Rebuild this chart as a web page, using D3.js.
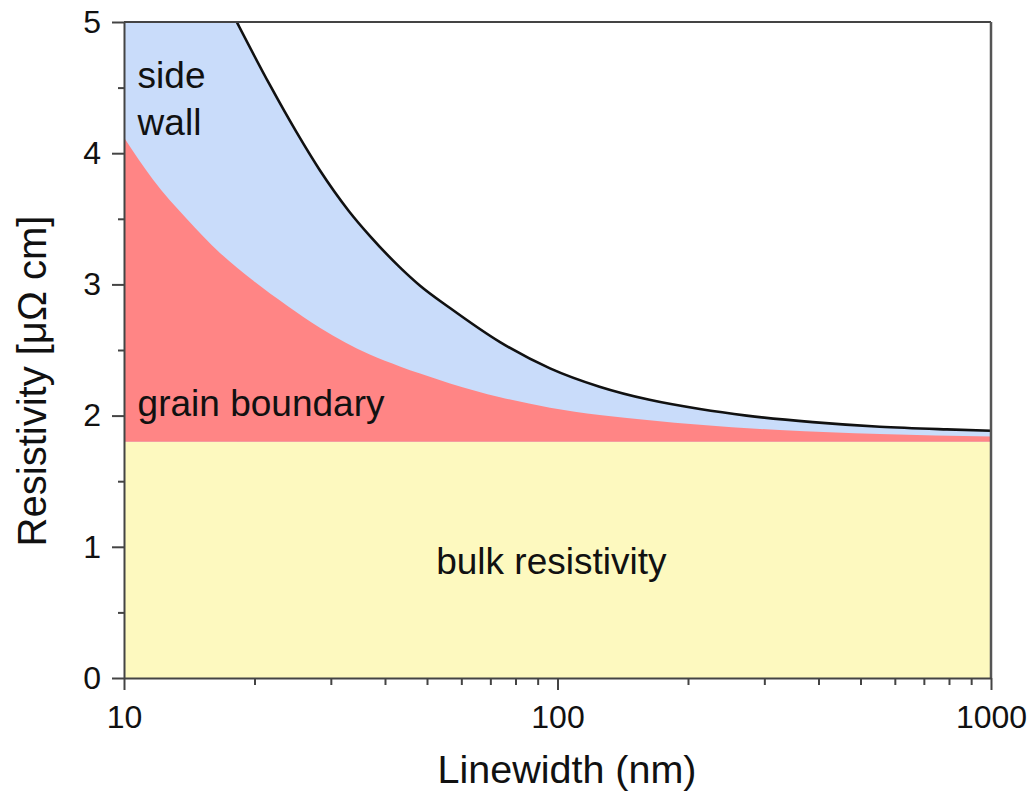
<!DOCTYPE html>
<html>
<head>
<meta charset="utf-8">
<script src="https://cdn.jsdelivr.net/npm/d3@7"></script>
<style>
  html, body { margin: 0; padding: 0; background: #fff; }
  svg { display: block; font-family: "Liberation Sans", Arial, Helvetica, sans-serif; }
</style>
</head>
<body>
<svg id="chart" width="1033" height="794"></svg>
<script>
// ---- data ----
// total resistivity (black line); it leaves the plot top (5) at about 18.2 nm
const totalWidths = [18.2, 21.7, 25, 28.3, 33, 36.9, 43.3, 48.2, 56.5, 73.7, 96.1, 125, 163, 213, 273, 388, 554, 791, 1000];
const totalResistivity = [5.0, 4.52, 4.16, 3.87, 3.56, 3.37, 3.13, 2.99, 2.82, 2.56, 2.36, 2.22, 2.12, 2.05, 2.00, 1.95, 1.915, 1.895, 1.885];
// top of the grain-boundary band
const grainWidths = [10, 11.66, 13.95, 16.65, 19.85, 23.75, 28.3, 36.9, 43.3, 48.2, 56.5, 73.7, 96.1, 125, 163, 213, 325, 554, 1000];
const grainResistivity = [4.12, 3.80, 3.50, 3.24, 3.03, 2.84, 2.67, 2.465, 2.375, 2.32, 2.245, 2.14, 2.06, 2.005, 1.965, 1.93, 1.89, 1.86, 1.84];
const bulkResistivity = 1.8;
const xMajorTicks = [10, 100, 1000];
const xMinorTicks = [20, 30, 40, 50, 60, 70, 80, 90, 200, 300, 400, 500, 600, 700, 800, 900];
const yMajorTicks = [0, 1, 2, 3, 4, 5];
const yMinorTicks = [0.5, 1.5, 2.5, 3.5, 4.5];
const regionLabels = [
  { lines: ["side", "wall"], w: 10.75, v: 4.5 },
  { lines: ["grain boundary"], w: 10.75, v: 2.0 },
  { lines: ["bulk resistivity"], w: 52.5, v: 0.79 }
];

const svg = d3.select("#chart");
const x = d3.scaleLog().domain([10, 1000]).range([124, 991]);
const y = d3.scaleLinear().domain([0, 5]).range([678, 22]);

svg.append("clipPath").attr("id", "plotclip")
  .append("rect").attr("x", x(10)).attr("y", y(5)).attr("width", x(1000) - x(10)).attr("height", y(0) - y(5));
const plot = svg.append("g").attr("clip-path", "url(#plotclip)");

const total = totalWidths.map((w, i) => ({ w, v: totalResistivity[i] }));
const grain = grainWidths.map((w, i) => ({ w, v: grainResistivity[i] }));
const bulk = [10, 1000].map(w => ({ w, v: bulkResistivity }));

// bulk (yellow)
plot.append("path").datum(bulk)
  .attr("fill", "#fdf9bf")
  .attr("d", d3.area().x(d => x(d.w)).y0(y(0)).y1(d => y(d.v)));

// side wall (blue): from bulk up to total
plot.append("path").datum(total)
  .attr("fill", "#c9dcfa")
  .attr("d", d3.area().curve(d3.curveMonotoneX).x(d => x(d.w)).y0(y(bulkResistivity)).y1(d => y(d.v)));
// left part, where the total is above the plot top (clipped at 5); overlaps the curve area slightly
const leftPart = [{ w: 10, v: 5 }, { w: x.invert(x(totalWidths[0]) + 3), v: 5 }];
plot.append("path").datum(leftPart)
  .attr("fill", "#c9dcfa")
  .attr("d", d3.area().x(d => x(d.w)).y0(y(bulkResistivity)).y1(d => y(d.v)));

// grain boundary (red)
plot.append("path").datum(grain)
  .attr("fill", "#ff8585")
  .attr("d", d3.area().curve(d3.curveMonotoneX).x(d => x(d.w)).y0(y(bulkResistivity)).y1(d => y(d.v)));

// total line
plot.append("path").datum(total)
  .attr("fill", "none")
  .attr("stroke", "#111")
  .attr("stroke-width", 2.6)
  .attr("d", d3.line().curve(d3.curveMonotoneX).x(d => x(d.w)).y(d => y(d.v)));

// frame (top and right)
svg.append("line").attr("x1", x(10)).attr("x2", x(1000)).attr("y1", y(5)).attr("y2", y(5))
  .attr("stroke", "#444").attr("stroke-width", 2);
svg.append("line").attr("x1", x(1000)).attr("x2", x(1000)).attr("y1", y(5)).attr("y2", y(0))
  .attr("stroke", "#555").attr("stroke-width", 2.5);

// axes
function styleAxis(g) {
  g.select(".domain").attr("stroke", "#444").attr("stroke-width", 2);
  g.selectAll(".tick line").attr("stroke", "#444").attr("stroke-width", 2);
  g.selectAll(".tick text").attr("fill", "#111").attr("font-size", 32).attr("font-family", "'Liberation Sans', Arial, sans-serif");
}
svg.append("g").attr("transform", `translate(0,${y(0)})`)
  .call(d3.axisBottom(x).tickValues(xMinorTicks).tickSize(7).tickFormat(""))
  .call(styleAxis).call(g => g.select(".domain").remove());
svg.append("g").attr("transform", `translate(0,${y(0)})`)
  .call(d3.axisBottom(x).tickValues(xMajorTicks).tickSize(12).tickSizeOuter(0).tickPadding(15).tickFormat(d3.format("d")))
  .call(styleAxis);
svg.append("g").attr("transform", `translate(${x(10)},0)`)
  .call(d3.axisLeft(y).tickValues(yMinorTicks).tickSize(6).tickFormat(""))
  .call(styleAxis).call(g => g.select(".domain").remove());
svg.append("g").attr("transform", `translate(${x(10)},0)`)
  .call(d3.axisLeft(y).tickValues(yMajorTicks).tickSize(12).tickSizeOuter(0).tickPadding(11).tickFormat(d3.format("d")))
  .call(styleAxis);

// axis titles
svg.append("text")
  .attr("x", 567).attr("y", 783)
  .attr("text-anchor", "middle")
  .attr("font-size", 39.5).attr("fill", "#111")
  .text("Linewidth (nm)");
svg.append("text")
  .attr("transform", "translate(46,381) rotate(-90)")
  .attr("text-anchor", "middle")
  .attr("font-size", 40).attr("fill", "#111")
  .text("Resistivity [μΩ cm]");

// region labels
regionLabels.forEach(lab => {
  const t = svg.append("text")
    .attr("x", x(lab.w)).attr("y", y(lab.v))
    .attr("font-size", 37).attr("fill", "#111");
  lab.lines.forEach((ln, i) => {
    t.append("tspan").attr("x", x(lab.w)).attr("dy", i === 0 ? 0 : "1.27em").text(ln);
  });
});
</script>
</body>
</html>
